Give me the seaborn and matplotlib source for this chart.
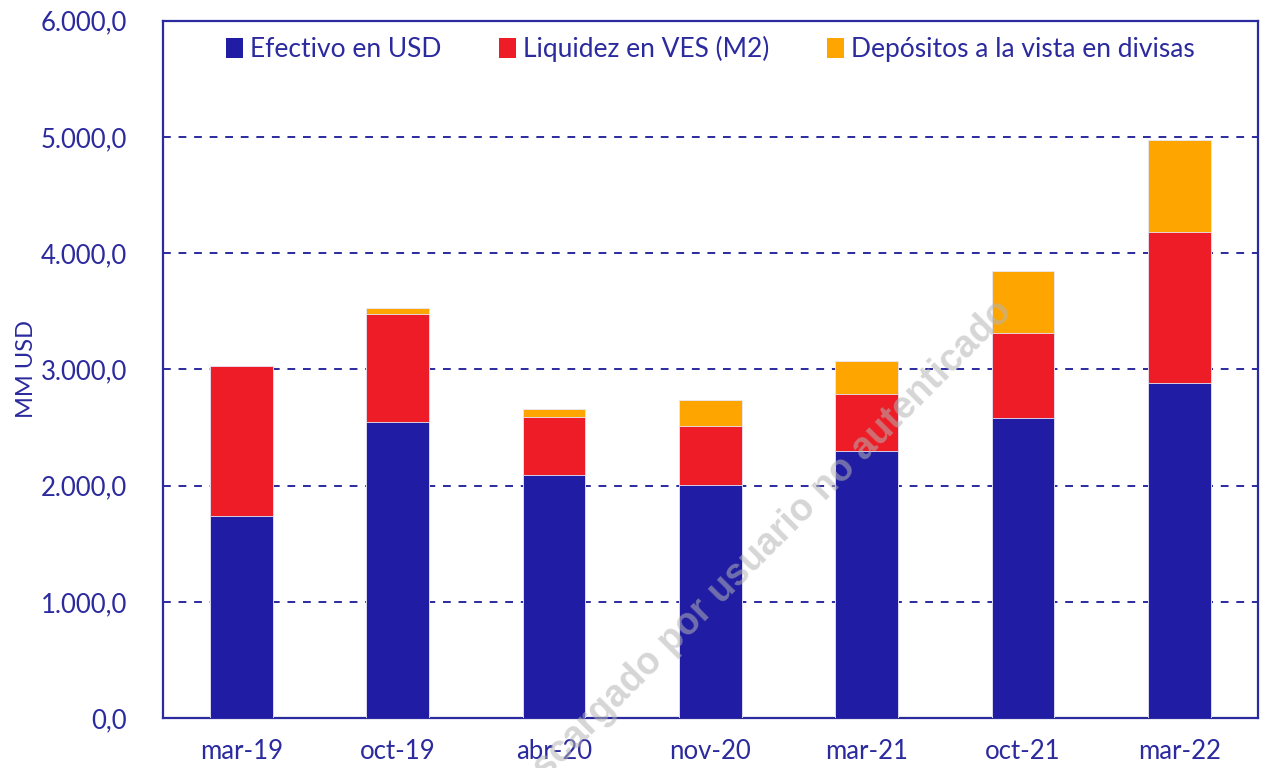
import matplotlib
matplotlib.use("Agg")
import matplotlib.pyplot as plt
import matplotlib.ticker as mticker
from matplotlib.patches import Patch
import seaborn as sns
import pandas as pd
import numpy as np

categories = ["mar-19", "oct-19", "abr-20", "nov-20", "mar-21", "oct-21", "mar-22"]
efectivo_usd = [1740, 2545, 2090, 2005, 2300, 2585, 2885]
liquidez_ves = [1290, 935, 500, 510, 490, 730, 1300]
depositos_divisas = [0, 50, 70, 225, 285, 535, 790]

series_names = ["Efectivo en USD", "Liquidez en VES (M2)", "Depósitos a la vista en divisas"]
colors = ["#201ca3", "#ed1c26", "#ffa500"]
text_color = "#2b2a9e"

sns.set_theme(style="white")
plt.rcParams["font.family"] = ["Lato", "DejaVu Sans"]

df = pd.DataFrame({
    "cat": categories,
    "blue": efectivo_usd,
    "red": liquidez_ves,
    "orange": depositos_divisas,
})
df["cum_red"] = df["blue"] + df["red"]
df["cum_total"] = df["cum_red"] + df["orange"]

fig = plt.figure(figsize=(12.64, 7.68), dpi=100)
ax = fig.add_axes([0.129, 0.065, 0.866, 0.908])

edge = "#e8e8f8"
sns.barplot(data=df, x="cat", y="cum_total", color=colors[2], width=0.4,
            saturation=1, ax=ax, edgecolor=edge, linewidth=0.6, zorder=3)
sns.barplot(data=df, x="cat", y="cum_red", color=colors[1], width=0.4,
            saturation=1, ax=ax, edgecolor=edge, linewidth=0.6, zorder=3)
sns.barplot(data=df, x="cat", y="blue", color=colors[0], width=0.4,
            saturation=1, ax=ax, edgecolor=edge, linewidth=0.6, zorder=3)

ax.set_ylim(0, 6000)
ax.set_xlim(-0.5, len(categories) - 0.5)
ax.set_yticks(np.arange(0, 6001, 1000))


def fmt(v, pos):
    s = f"{v:,.1f}"
    return s.replace(",", "X").replace(".", ",").replace("X", ".")


ax.yaxis.set_major_formatter(mticker.FuncFormatter(fmt))
ax.yaxis.grid(True, linestyle=(0, (4, 4)), color=text_color, linewidth=1.4, zorder=0)
ax.xaxis.grid(False)
ax.set_axisbelow(True)

for sp in ax.spines.values():
    sp.set_visible(True)
    sp.set_color(text_color)
    sp.set_linewidth(1.6)

ax.tick_params(axis="both", length=0, labelsize=18.5, colors=text_color)
ax.tick_params(axis="y", pad=26)
ax.tick_params(axis="x", pad=15)
ax.set_xlabel("")
ax.set_ylabel("MM USD", fontsize=17, color=text_color)
ax.yaxis.set_label_coords(-0.115, 0.5)

handles = [Patch(facecolor=c, edgecolor="none") for c in colors]
leg = ax.legend(handles, series_names, loc="upper center", ncol=3, frameon=False,
                fontsize=19, handlelength=0.65, handleheight=0.75, handletextpad=0.25,
                columnspacing=2.2, bbox_to_anchor=(0.5, 1.012))
for t in leg.get_texts():
    t.set_color(text_color)

fig.text(756 / 1264, 1 - 557 / 768, "Descargado por usuario no autenticado",
         rotation=45, rotation_mode="anchor", ha="center", va="center",
         fontsize=27, fontweight="bold", color="#b4b4b4", alpha=0.55,
         family=["Liberation Sans", "DejaVu Sans"], zorder=10)

fig.savefig("out.png", dpi=100)
